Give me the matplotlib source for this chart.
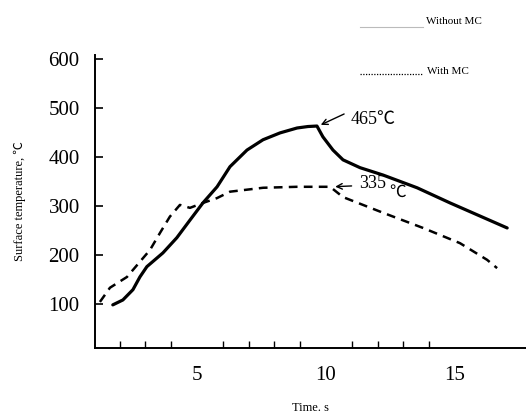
import matplotlib.pyplot as plt

# Surface temperature vs time
t_without = [1.74, 2.13, 2.52, 2.79, 3.06, 3.68, 4.22, 4.73, 5.23, 5.78, 6.28, 6.94,
             7.56, 8.22, 8.88, 9.3, 9.65, 9.88, 10.27, 10.66, 11.32, 12.21, 13.53,
             14.81, 15.85, 17.02]
temp_without = [98, 108, 129, 155, 176, 204, 235, 271, 306, 339, 380, 414,
                435, 449, 459, 462, 463, 441, 414, 394, 378, 363, 337,
                306, 282, 255]

t_with = [1.24, 1.63, 2.29, 2.79, 3.18, 3.57, 3.95, 4.34, 4.73, 5.23, 5.78, 6.28,
          7.56, 8.88, 10.16, 10.66, 12.21, 13.76, 15.19, 16.24, 16.63]
temp_with = [104, 133, 155, 186, 210, 245, 278, 302, 296, 306, 316, 329,
             337, 339, 339, 318, 286, 255, 224, 190, 173]

x_labels = [5, 10, 15]
y_labels = [100, 200, 300, 400, 500, 600]

serif = ['Liberation Serif', 'Noto Sans CJK SC']
plt.rcParams['font.family'] = serif

fig = plt.figure(figsize=(5.26, 4.16), dpi=100)
ax = fig.add_axes([0.1806, 0.1635, 0.8194, 0.7043])

ax.plot(t_without, temp_without, color='black', lw=2.3, solid_capstyle='round')
ax.plot(t_with, temp_with, color='black', lw=1.8, linestyle=(0, (3.5, 2.5)))

ax.set_xlim(1.05, 17.75)
ax.set_ylim(10, 608)

ax.spines['top'].set_visible(False)
ax.spines['right'].set_visible(False)
ax.spines['left'].set_linewidth(1.4)
ax.spines['bottom'].set_linewidth(1.4)

ax.set_xticks(x_labels)
ax.set_xticks(range(2, 16), minor=True)
ax.tick_params(axis='x', which='major', length=0, pad=13, labelsize=15)
ax.tick_params(axis='x', which='minor', direction='in', length=5, width=1)
ax.set_yticks(y_labels)
ax.tick_params(axis='y', which='major', direction='in', length=6, width=1.2,
               pad=11, labelsize=15)

ax.set_xlabel('Time. s', fontsize=9, labelpad=12)
ax.set_ylabel('Surface temperature, ℃', fontsize=9, labelpad=16)

# peak annotations
ax.annotate('', xy=(9.7, 463), xytext=(10.8, 490),
            arrowprops=dict(arrowstyle='->', lw=1, color='black'))
ax.text(10.95, 476, '465℃', fontsize=13, ha='left', va='center')
ax.annotate('', xy=(10.25, 339), xytext=(11.1, 341),
            arrowprops=dict(arrowstyle='->', lw=1, color='black'))
ax.text(11.3, 345, '335', fontsize=13, ha='left', va='center')
ax.text(12.45, 326, '℃', fontsize=12, ha='left', va='center')

# legend drawn by hand like the original
fig.lines.append(plt.Line2D([360 / 526, 423 / 526], [1 - 27 / 416, 1 - 27 / 416],
                            color='#bbbbbb', lw=0.8, transform=fig.transFigure))
fig.text(426 / 526, 1 - 21 / 416, 'Without MC', fontsize=8, va='center', ha='left')
fig.lines.append(plt.Line2D([360 / 526, 423 / 526], [1 - 74 / 416, 1 - 74 / 416],
                            color='black', lw=0.9, linestyle=(0, (1, 1.2)),
                            transform=fig.transFigure))
fig.text(427 / 526, 1 - 72 / 416, 'With MC', fontsize=8, va='center', ha='left')

fig.savefig('out.png', dpi=100)
